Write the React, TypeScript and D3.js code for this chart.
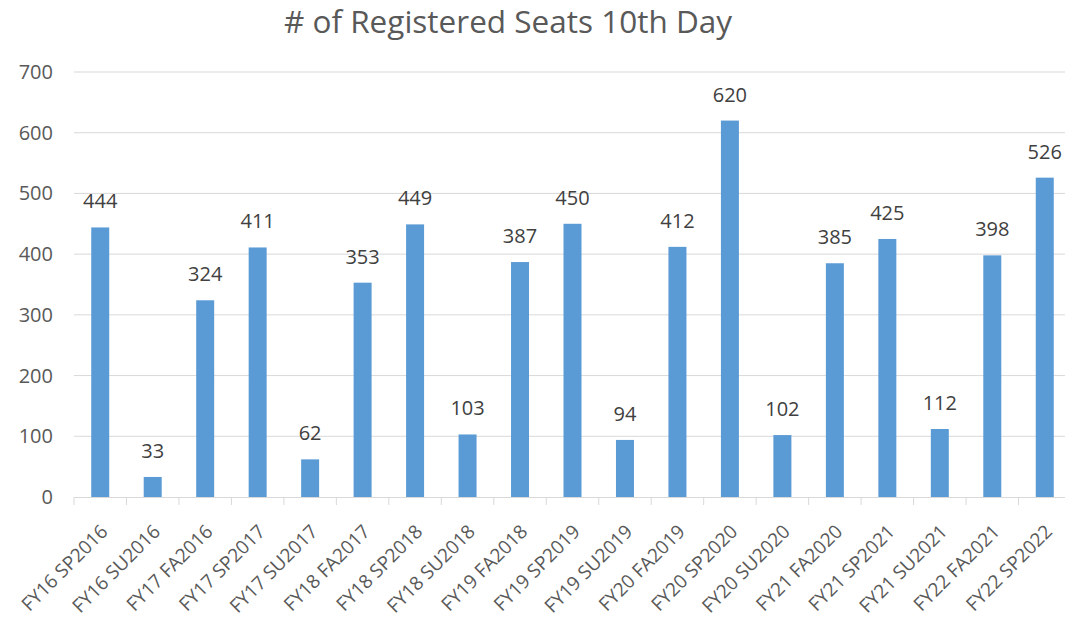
import React from "react";
import * as d3 from "d3";

const categories = [
  "FY16 SP2016", "FY16 SU2016", "FY17 FA2016", "FY17 SP2017", "FY17 SU2017",
  "FY18 FA2017", "FY18 SP2018", "FY18 SU2018", "FY19 FA2018", "FY19 SP2019",
  "FY19 SU2019", "FY20 FA2019", "FY20 SP2020", "FY20 SU2020", "FY21 FA2020",
  "FY21 SP2021", "FY21 SU2021", "FY22 FA2021", "FY22 SP2022",
];
const seats = [444, 33, 324, 411, 62, 353, 449, 103, 387, 450, 94, 412, 620, 102, 385, 425, 112, 398, 526];
const yTicks = [0, 100, 200, 300, 400, 500, 600, 700];
const title = "# of Registered Seats 10th Day";

const W = 1065;
const H = 621;
const left = 74;
const right = 1071;
const top = 72;
const bottom = 497;
const FONT = "'Open Sans', sans-serif";

export default function App() {
  const x = d3.scaleBand<string>().domain(categories).range([left, right]).paddingInner(0.657).paddingOuter(0.3285);
  const band = d3.scaleBand<string>().domain(categories).range([left, right]);
  const y = d3.scaleLinear().domain([0, 700]).range([bottom, top]);

  return (
    <svg width={W} height={H} style={{ position: "absolute", left: 0, top: 0, background: "#fff" }}>
      <text x={508} y={33} textAnchor="middle" fontFamily={FONT} fontSize={31.5} fill="#595959">
        {title}
      </text>
      {yTicks.map((t) => (
        <g key={t}>
          {t > 0 && <line x1={left} x2={right} y1={y(t)} y2={y(t)} stroke="#d9d9d9" strokeWidth={1} />}
          <text x={53} y={y(t)} dy="0.35em" textAnchor="end" fontFamily={FONT} fontSize={20} fill="#595959">
            {t}
          </text>
        </g>
      ))}
      {seats.map((v, i) => {
        const c = categories[i];
        return (
          <g key={c}>
            <rect x={x(c)} y={y(v)} width={x.bandwidth()} height={y(0) - y(v)} fill="#5b9bd5" />
            <text x={x(c)! + x.bandwidth() / 2} y={y(v) - 19} textAnchor="middle" fontFamily={FONT} fontSize={20} fill="#404040">
              {v}
            </text>
          </g>
        );
      })}
      <line x1={left} x2={right} y1={bottom + 0.5} y2={bottom + 0.5} stroke="#d9d9d9" strokeWidth={1} />
      {categories.map((c) => (
        <line key={"t" + c} x1={band(c)!} x2={band(c)!} y1={bottom} y2={bottom + 8} stroke="#d9d9d9" />
      ))}
      {categories.map((c) => {
        const cx = band(c)! + band.bandwidth() / 2;
        return (
          <text key={"l" + c} transform={`translate(${cx + 4},${bottom + 31}) rotate(-45)`} dy="0.35em" textAnchor="end" fontFamily={FONT} fontSize={19} fill="#595959">
            {c}
          </text>
        );
      })}
    </svg>
  );
}
